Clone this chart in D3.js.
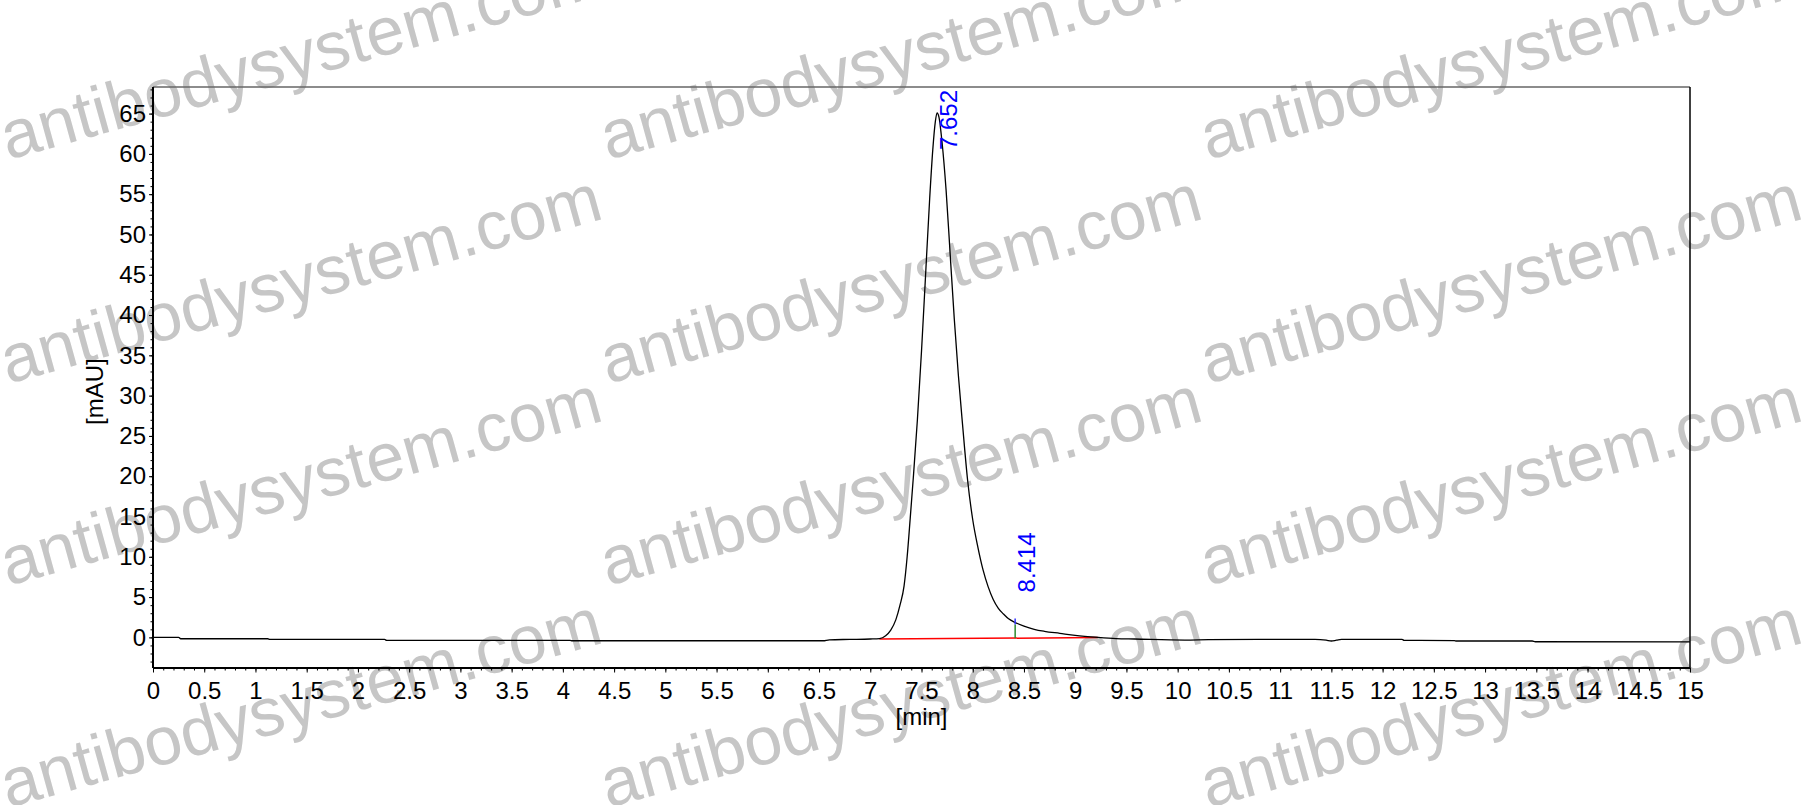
<!DOCTYPE html>
<html lang="en">
<head>
    <meta charset="utf-8">
    <title>Chromatogram</title>
    <script src="https://d3js.org/d3.v7.min.js"></script>
    <style>
        body {
            margin: 0;
            background: #fff;
            font-family: "Liberation Sans", Arial, sans-serif;
        }
        svg {
            display: block;
        }
        .axis text {
            font-family: "Liberation Sans", Arial, sans-serif;
            font-size: 24px;
            fill: #000;
        }
        .axis path.domain {
            display: none;
        }
        .axis line {
            stroke: #000;
        }
        .watermark {
            font-family: "Liberation Sans", Arial, sans-serif;
            font-size: 68px;
            fill: #c6c6c6;
        }
    </style>
</head>
<body>
    <svg id="chart" width="1812" height="805"></svg>

    <script>
        // Signal: retention time (min) and absorbance (mAU)
        const times = [
            0, 0.25, 0.27, 1.12, 1.14, 2.26, 2.28, 4.07, 4.09, 6.54, 6.6, 6.8, 7.0, 7.09,
            7.15, 7.2, 7.25, 7.29, 7.33, 7.36, 7.39, 7.42, 7.46, 7.5, 7.54, 7.58, 7.61, 7.635,
            7.652, 7.67, 7.7, 7.74, 7.78, 7.82, 7.86, 7.9, 7.95, 8.0, 8.05, 8.1, 8.15, 8.2,
            8.25, 8.3, 8.35, 8.414, 8.5, 8.6, 8.7, 8.85, 9.0, 9.22, 9.4, 9.58, 10.07, 10.3,
            10.79, 11.34, 11.45, 11.5, 11.55, 11.6, 12.19, 12.21, 12.7, 12.72, 13.46, 13.49, 15
        ];
        const signal = [
            0, 0, -0.17, -0.17, -0.25, -0.25, -0.37, -0.37, -0.42, -0.42, -0.3, -0.25, -0.2, -0.15,
            0.2, 0.9, 2.2, 4.0, 6.4, 10.0, 14.8, 19.8, 27.0, 35.5, 45.0, 54.5, 60.5, 64.0,
            65.1, 64.6, 61.5, 55.5, 47.5, 39.5, 32.5, 26.5, 19.5, 14.6, 11.2, 8.4, 6.3, 4.7,
            3.6, 2.9, 2.3, 1.85, 1.4, 1.0, 0.75, 0.5, 0.25, 0.0, -0.15, -0.2, -0.33, -0.28,
            -0.25, -0.25, -0.35, -0.45, -0.35, -0.25, -0.25, -0.37, -0.4, -0.45, -0.45, -0.54, -0.57
        ];

        // Integrated peaks and their baseline
        const peakTimes = [7.652, 8.414];
        const peakLabels = ["7.652", "8.414"];
        const baselineTimes = [7.09, 9.22];
        const baselineValues = [-0.2, -0.03];

        // Axis ticks
        const xTicks = d3.range(0, 15.01, 0.5);
        const xTickLabels = ["0", "0.5", "1", "1.5", "2", "2.5", "3", "3.5", "4", "4.5", "5", "5.5",
            "6", "6.5", "7", "7.5", "8", "8.5", "9", "9.5", "10", "10.5", "11", "11.5", "12",
            "12.5", "13", "13.5", "14", "14.5", "15"];
        const yTicks = [0, 5, 10, 15, 20, 25, 30, 35, 40, 45, 50, 55, 60, 65];

        const data = times.map((t, i) => ({ t: t, v: signal[i] }));

        // Setup dimensions
        const margin = { top: 87, right: 122, bottom: 137, left: 153 },
            width = 1812 - margin.left - margin.right,
            height = 805 - margin.top - margin.bottom;

        const svg = d3.select("#chart");

        // Watermark text repeated over the page
        const wmCols = [8, 608, 1208];
        const wmRows = [160, 384, 586, 808];
        wmRows.forEach(wy => {
            wmCols.forEach(wx => {
                svg.append("text")
                    .attr("class", "watermark")
                    .attr("transform", `translate(${wx},${wy}) rotate(-15.5)`)
                    .text("antibodysystem.com");
            });
        });

        const g = svg.append("g")
            .attr("transform", `translate(${margin.left},${margin.top})`);

        const x = d3.scaleLinear()
            .domain([0, 15])
            .range([0, width]);

        const y = d3.scaleLinear()
            .domain([-3.8, 68.3])
            .range([height, 0]);

        // Minor ticks
        g.append("g")
            .attr("class", "axis")
            .attr("transform", `translate(0,${height})`)
            .call(d3.axisBottom(x).tickValues(d3.range(0, 15.001, 0.1)).tickSize(2.5).tickFormat(""))
            .selectAll("line").attr("stroke", "#444");

        g.append("g")
            .attr("class", "axis")
            .call(d3.axisLeft(y).tickValues(d3.range(-3, 68.5, 1)).tickSize(2.5).tickFormat(""))
            .selectAll("line").attr("stroke", "#444");

        // Major ticks with labels
        g.append("g")
            .attr("class", "axis")
            .attr("transform", `translate(0,${height})`)
            .call(d3.axisBottom(x).tickValues(xTicks).tickSize(4.5).tickPadding(9)
                .tickFormat((d, i) => xTickLabels[i]));

        g.append("g")
            .attr("class", "axis")
            .call(d3.axisLeft(y).tickValues(yTicks).tickSize(4).tickPadding(3)
                .tickFormat(d => d));

        // Frame
        g.append("line").attr("x1", 0).attr("x2", width).attr("y1", 0).attr("y2", 0)
            .attr("stroke", "#666").attr("stroke-width", 1.5);
        g.append("line").attr("x1", width).attr("x2", width).attr("y1", 0).attr("y2", height)
            .attr("stroke", "#000").attr("stroke-width", 1.5);
        g.append("line").attr("x1", 0).attr("x2", 0).attr("y1", 0).attr("y2", height)
            .attr("stroke", "#000").attr("stroke-width", 2);
        g.append("line").attr("x1", 0).attr("x2", width).attr("y1", height).attr("y2", height)
            .attr("stroke", "#000").attr("stroke-width", 2);

        // Integration baseline
        g.append("line")
            .attr("x1", x(baselineTimes[0])).attr("y1", y(baselineValues[0]))
            .attr("x2", x(baselineTimes[1])).attr("y2", y(baselineValues[1]))
            .attr("stroke", "#ff0000")
            .attr("stroke-width", 1.5);

        // Chromatogram trace
        const line = d3.line()
            .x(d => x(d.t))
            .y(d => y(d.v))
            .curve(d3.curveMonotoneX);

        g.append("path")
            .datum(data)
            .attr("fill", "none")
            .attr("stroke", "#000")
            .attr("stroke-width", 1.3)
            .attr("d", line);

        // value of the trace at a given time
        const valueAt = t => {
            const i = d3.bisectLeft(times, t);
            if (times[i] === t) return signal[i];
            const a = i - 1;
            return signal[a] + (signal[i] - signal[a]) * (t - times[a]) / (times[i] - times[a]);
        };
        const baseAt = t => baselineValues[0] + (baselineValues[1] - baselineValues[0]) *
            (t - baselineTimes[0]) / (baselineTimes[1] - baselineTimes[0]);

        // Peak delimiter at 8.414 (drop line to baseline)
        const tDrop = peakTimes[1];
        g.append("line")
            .attr("x1", x(tDrop)).attr("x2", x(tDrop))
            .attr("y1", y(valueAt(tDrop)) + 2).attr("y2", y(baseAt(tDrop)))
            .attr("stroke", "#2e8b2e").attr("stroke-width", 1.5);
        g.append("line")
            .attr("x1", x(tDrop)).attr("x2", x(tDrop))
            .attr("y1", y(valueAt(tDrop)) - 4).attr("y2", y(valueAt(tDrop)) + 2)
            .attr("stroke", "#3333ff").attr("stroke-width", 1.5);

        // Peak labels, rotated, kept inside the frame
        peakTimes.forEach((t, i) => {
            const textLen = 61;
            let yStart = y(valueAt(t)) - 30;
            if (yStart - textLen < 2) yStart = 2 + textLen;
            g.append("text")
                .attr("transform", `translate(${x(t) + 20},${yStart}) rotate(-90)`)
                .attr("fill", "#0000ff")
                .style("font-family", "'Liberation Sans', Arial, sans-serif")
                .style("font-size", "24px")
                .text(peakLabels[i]);
        });

        // Axis titles
        svg.append("text")
            .attr("transform", `translate(103,${margin.top + y(30.5)}) rotate(-90)`)
            .attr("text-anchor", "middle")
            .style("font-size", "24px")
            .text("[mAU]");

        svg.append("text")
            .attr("x", margin.left + width / 2)
            .attr("y", 725)
            .attr("text-anchor", "middle")
            .style("font-size", "24px")
            .text("[min]");
    </script>
</body>
</html>
